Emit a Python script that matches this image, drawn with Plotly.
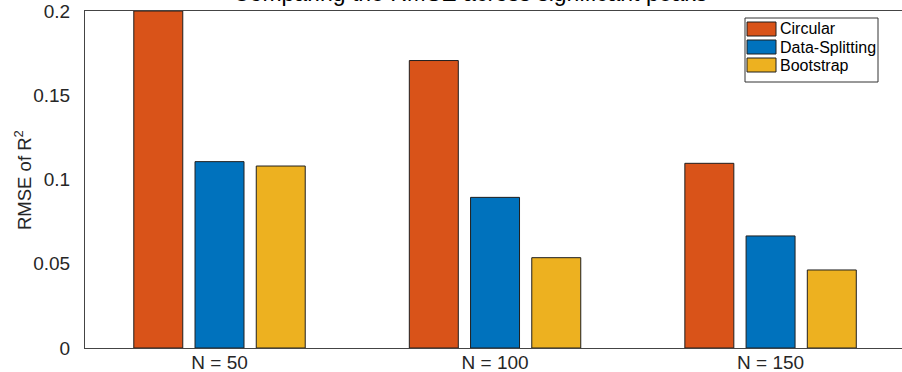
import plotly.graph_objects as go

# Sample-size groups on the x axis
groups = ["N = 50", "N = 100", "N = 150"]
group_pos = [1, 2, 3]

# RMSE of R^2 per estimation method
methods = ["Circular", "Data-Splitting", "Bootstrap"]
circular = [0.200, 0.1706, 0.1096]
data_splitting = [0.1106, 0.0894, 0.0665]
bootstrap = [0.1080, 0.0536, 0.0463]
series = [circular, data_splitting, bootstrap]

y_ticks = [0, 0.05, 0.1, 0.15, 0.2]
y_tick_text = ["0", "0.05", "0.1", "0.15", "0.2"]

colors = ["#D95319", "#0072BD", "#EDB120"]
edge = "#1f1f1f"
text_color = "#262626"
font_family = "Liberation Sans, Arial, Helvetica, sans-serif"

W, H = 902, 372
L, R, T, B = 85, 0, 11, 24
plot_w = W - L - R
plot_h = H - T - B


def px_x(x):
    return (x - L) / plot_w


def px_y(y):
    return (H - B - y) / plot_h


fig = go.Figure()
for name, vals, col in zip(methods, series, colors):
    fig.add_trace(go.Bar(
        x=group_pos, y=vals, name=name,
        marker=dict(color=col, line=dict(color=edge, width=1)),
        showlegend=False,
    ))

# Boxed legend with wide swatches
shapes = [dict(type="rect", xref="paper", yref="paper",
               x0=px_x(745), x1=px_x(878), y0=px_y(82), y1=px_y(18),
               line=dict(color="#333333", width=1), fillcolor="white", layer="above")]
annotations = []
row_centers = [29, 47, 65]
for name, col, cy in zip(methods, colors, row_centers):
    shapes.append(dict(type="rect", xref="paper", yref="paper",
                       x0=px_x(747), x1=px_x(776), y0=px_y(cy + 7), y1=px_y(cy - 7),
                       line=dict(color=edge, width=1), fillcolor=col, layer="above"))
    annotations.append(dict(xref="paper", yref="paper", x=px_x(778), y=px_y(cy),
                            xanchor="left", yanchor="middle", text=name, showarrow=False,
                            font=dict(size=16, color="black", family=font_family)))

# Title (sits partly above the canvas)
annotations.append(dict(xref="paper", yref="paper", x=px_x(470), y=1, yshift=3,
                        xanchor="center", yanchor="bottom", showarrow=False,
                        text="Comparing the RMSE across significant peaks",
                        font=dict(size=23, color="black", family=font_family)))

# Y axis title
annotations.append(dict(xref="paper", yref="paper", x=px_x(23), y=px_y(180),
                        xanchor="center", yanchor="middle", showarrow=False, textangle=-90,
                        text="RMSE of R<sup>2</sup>",
                        font=dict(size=18.5, color=text_color, family=font_family)))

fig.update_layout(
    width=W, height=H,
    margin=dict(l=L, r=R, t=T, b=B, pad=0, autoexpand=False),
    paper_bgcolor="white", plot_bgcolor="white",
    barmode="group", bargap=1 / 3, bargroupgap=0.2,
    font=dict(family=font_family, size=19, color=text_color),
    shapes=shapes, annotations=annotations,
    xaxis=dict(range=[0.5118, 3.477], tickvals=group_pos, ticktext=groups,
               automargin=False,
               showline=True, linecolor="#444444", linewidth=1, mirror=True,
               showgrid=False, zeroline=False,
               ticks="", ticklabelstandoff=-3),
    yaxis=dict(range=[0, 0.2], tickvals=y_ticks, ticktext=y_tick_text,
               automargin=False,
               showline=True, linecolor="#444444", linewidth=1, mirror=False,
               showgrid=False, zeroline=False,
               ticks="outside", ticklen=10, tickcolor="rgba(0,0,0,0)"),
)

fig.write_html("out.html")
